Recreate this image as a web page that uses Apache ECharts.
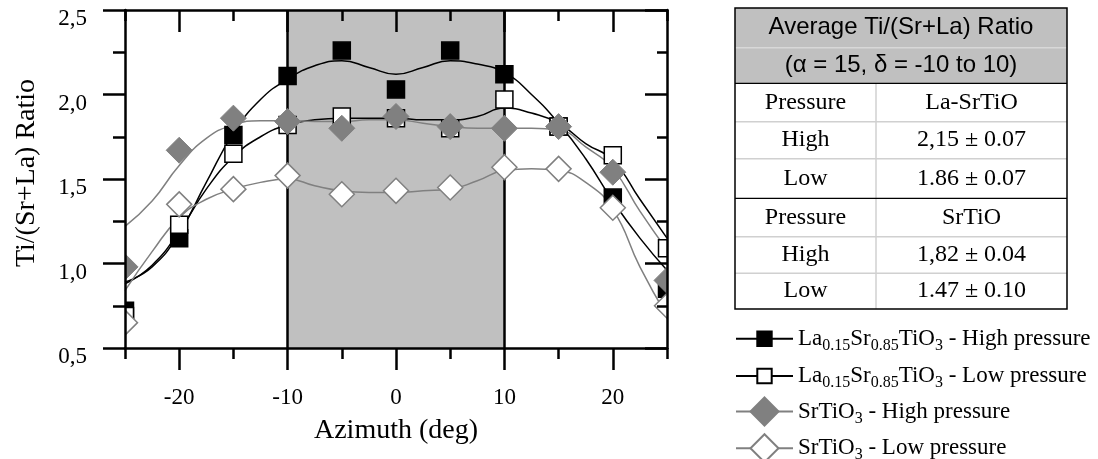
<!DOCTYPE html>
<html>
<head>
<meta charset="utf-8">
<script src="https://cdn.jsdelivr.net/npm/echarts@6/dist/echarts.min.js"></script>
<style>
  html, body { margin: 0; padding: 0; background: #fff; }
  #chart { width: 1098px; height: 459px; }
</style>
</head>
<body>
<div id="chart"></div>
<script>
// Measured Ti/(Sr+La) ratios per azimuth angle
const azimuth = [-25, -20, -15, -10, -5, 0, 5, 10, 15, 20, 25];
const laHigh = [0.72, 1.15, 1.76, 2.11, 2.26, 2.03, 2.26, 2.12, 1.81, 1.39, 0.85];
const laLow  = [0.69, 1.23, 1.65, 1.82, 1.87, 1.86, 1.80, 1.97, 1.81, 1.64, 1.09];
const srHigh = [0.98, 1.67, 1.86, 1.84, 1.80, 1.87, 1.81, 1.80, 1.81, 1.54, 0.90];
const srLow  = [0.65, 1.35, 1.44, 1.52, 1.41, 1.43, 1.45, 1.57, 1.56, 1.33, 0.75];

// Fitted trend curves, sampled every 2.5 deg
const fitAzimuth = [-25, -22.5, -20, -17.5, -15, -12.5, -10, -7.5, -5, -2.5, 0, 2.5, 5, 7.5, 10, 12.5, 15, 17.5, 20, 22.5, 25];
const laHighFit = [0.89, 0.98, 1.18, 1.48, 1.77, 1.97, 2.09, 2.17, 2.20, 2.16, 2.12, 2.16, 2.20, 2.18, 2.13, 2.00, 1.83, 1.62, 1.37, 1.15, 0.96];
const laLowFit  = [0.88, 0.99, 1.19, 1.44, 1.63, 1.75, 1.82, 1.85, 1.86, 1.86, 1.86, 1.85, 1.85, 1.87, 1.92, 1.89, 1.83, 1.71, 1.61, 1.38, 1.15];
const srHighFit = [1.22, 1.37, 1.58, 1.74, 1.82, 1.845, 1.845, 1.84, 1.84, 1.85, 1.85, 1.83, 1.81, 1.80, 1.80, 1.80, 1.79, 1.69, 1.56, 1.31, 1.08];
const srLowFit  = [0.84, 1.07, 1.27, 1.38, 1.44, 1.48, 1.50, 1.46, 1.43, 1.42, 1.42, 1.43, 1.44, 1.49, 1.55, 1.56, 1.55, 1.48, 1.32, 0.98, 0.69];

// Axis ticks and shaded azimuth window
const xMajorTicks = [-20, -10, 0, 10, 20];
const xMinorTicks = [-25, -15, -5, 5, 15, 25];
const shadedRange = [-10, 10];

const seriesNames = [
  'La0.15Sr0.85TiO3 - High pressure',
  'La0.15Sr0.85TiO3 - Low pressure',
  'SrTiO3 - High pressure',
  'SrTiO3 - Low pressure'
];

// Summary table
const tableTitle = ['Average Ti/(Sr+La) Ratio', '(\u03B1 = 15, \u03B4 = -10 to 10)'];
const tableHeadA = ['Pressure', 'La-SrTiO'];
const tableRowsA = [['High', '2,15 \u00B1 0.07'], ['Low', '1.86 \u00B1 0.07']];
const tableHeadB = ['Pressure', 'SrTiO'];
const tableRowsB = [['High', '1,82 \u00B1 0.04'], ['Low', '1.47 \u00B1 0.10']];

const SERIF = '"Liberation Serif", "Times New Roman", serif';
const SANS = '"Liberation Sans", Arial, sans-serif';
const GRAY = '#808080';
const AX = { color: '#000', width: 2.5 };

const pairs = (xs, ys) => xs.map((x, i) => [x, ys[i]]);

// Chemical formula with subscripted stoichiometry, as rich text
function richName(name) {
  const parts = name.split(' - ');
  const formula = parts[0].replace(/([A-Za-z]+)|([\d.]+)/g, (m, el, num) =>
    el ? '{n|' + el + '}' : '{s|' + num + '}');
  return formula + '{n| - ' + parts[1] + '}';
}

function fitSeries(name, ys, color, symbol, itemStyle) {
  return {
    type: 'line', name, data: pairs(fitAzimuth, ys),
    smooth: 0.5, showSymbol: false, symbol, z: 2,
    lineStyle: { color, width: 1.5 },
    itemStyle, silent: true, emphasis: { disabled: true }
  };
}

function markerSeries(name, ys, shape, size, fill, stroke, lw) {
  return {
    type: 'custom', name, data: pairs(azimuth, ys), clip: true, z: 6, silent: true,
    encode: { x: 0, y: 1 },
    renderItem(params, api) {
      const c = api.coord([api.value(0), api.value(1)]);
      const h = size / 2;
      const style = { fill, stroke, lineWidth: lw };
      if (shape === 'square') {
        return { type: 'rect', shape: { x: c[0] - h, y: c[1] - h, width: size, height: size }, style };
      }
      return {
        type: 'polygon',
        shape: { points: [[c[0], c[1] - h], [c[0] + h, c[1]], [c[0], c[1] + h], [c[0] - h, c[1]]] },
        style
      };
    }
  };
}

const laHighFitSeries = fitSeries(seriesNames[0], laHighFit, '#000', 'rect',
  { color: '#000', borderColor: '#000', borderWidth: 1 });
laHighFitSeries.markArea = {
  silent: true, z: 1,
  itemStyle: { color: '#c0c0c0' },
  data: [[{ xAxis: shadedRange[0] }, { xAxis: shadedRange[1] }]]
};
laHighFitSeries.markLine = {
  silent: true, z: 3, symbol: ['none', 'none'], animation: false,
  label: { show: false },
  lineStyle: { color: '#000', width: 2.5, type: 'solid' },
  data: shadedRange.map(v => ({ xAxis: v }))
};

// Table drawn as graphic rectangles, rules and texts
const tblL = 735, tblR = 1067, tblMid = 876;
const rowEdges = [8, 47.7, 83.3, 121.7, 158.7, 198.3, 236.7, 273.3, 309];
const graphics = [];
graphics.push({ type: 'rect', shape: { x: tblL, y: rowEdges[0], width: tblR - tblL, height: rowEdges[2] - rowEdges[0] },
  style: { fill: '#c0c0c0' }, silent: true });
[1, 3, 4, 6, 7].forEach(i => graphics.push({ type: 'line',
  shape: { x1: tblL, y1: rowEdges[i], x2: tblR, y2: rowEdges[i] },
  style: { stroke: i === 1 ? '#d8d8d8' : '#d0d0d0', lineWidth: 1.5 }, silent: true }));
graphics.push({ type: 'line', shape: { x1: tblMid, y1: rowEdges[2], x2: tblMid, y2: rowEdges[8] },
  style: { stroke: '#d0d0d0', lineWidth: 1.5 }, silent: true });
[2, 5].forEach(i => graphics.push({ type: 'line',
  shape: { x1: tblL, y1: rowEdges[i], x2: tblR, y2: rowEdges[i] },
  style: { stroke: '#000', lineWidth: 1.2 }, silent: true }));
graphics.push({ type: 'rect', shape: { x: tblL, y: rowEdges[0], width: tblR - tblL, height: rowEdges[8] - rowEdges[0] },
  style: { fill: 'none', stroke: '#000', lineWidth: 1.5 }, silent: true });

function cellText(text, x, row, family) {
  graphics.push({ type: 'text', silent: true, style: {
    text, x, y: (rowEdges[row] + rowEdges[row + 1]) / 2,
    textAlign: 'center', textVerticalAlign: 'middle',
    fontSize: 24, fontFamily: family, fill: '#000' } });
}
tableTitle.forEach((t, i) => cellText(t, (tblL + tblR) / 2, i, SANS));
const colX = [(tblL + tblMid) / 2, (tblMid + tblR) / 2];
[[tableHeadA, ...tableRowsA], [tableHeadB, ...tableRowsB]].forEach((block, b) => {
  block.forEach((cells, r) => cells.forEach((t, c) => cellText(t, colX[c], 2 + b * 3 + r, SERIF)));
});

const legendText = {
  fontSize: 23, fontFamily: SERIF, color: '#000',
  rich: {
    n: { fontSize: 23, fontFamily: SERIF, color: '#000', lineHeight: 30 },
    s: { fontSize: 16, fontFamily: SERIF, color: '#000', lineHeight: 8, verticalAlign: 'bottom' }
  }
};

// One legend block per entry so each row sits at its own height
const legendTops = [327.2, 364.5, 396.5, 433.2];
const legends = seriesNames.map((name, i) => ({
  data: [name], orient: 'vertical', left: 735, top: legendTops[i],
  itemWidth: 57, itemHeight: i < 2 ? 18 : 35, padding: 0, selectedMode: false,
  formatter: richName, textStyle: legendText
}));

const option = {
  animation: false,
  grid: { left: 125, right: 431, top: 10, bottom: 111 },
  xAxis: [
    {
      type: 'value', min: -25, max: 25, position: 'bottom', z: 10,
      axisLine: { onZero: false, lineStyle: AX },
      axisTick: { customValues: xMajorTicks, length: 22, lineStyle: AX },
      axisLabel: { customValues: xMajorTicks, margin: 38, fontSize: 23, fontFamily: SERIF, color: '#000' },
      splitLine: { show: false },
      name: 'Azimuth (deg)', nameLocation: 'middle', nameGap: 69,
      nameTextStyle: { fontSize: 28, fontFamily: SERIF, color: '#000' }
    },
    {
      type: 'value', min: -25, max: 25, position: 'bottom', z: 10,
      axisLine: { show: false, onZero: false },
      axisTick: { customValues: xMinorTicks, length: 11, lineStyle: AX },
      axisLabel: { show: false }, splitLine: { show: false }
    },
    {
      type: 'value', min: -25, max: 25, position: 'top', z: 10,
      axisLine: { onZero: false, lineStyle: AX },
      axisTick: { customValues: xMajorTicks, inside: true, length: 22, lineStyle: AX },
      axisLabel: { show: false }, splitLine: { show: false }
    },
    {
      type: 'value', min: -25, max: 25, position: 'top', z: 10,
      axisLine: { show: false, onZero: false },
      axisTick: { customValues: xMinorTicks, inside: true, length: 11, lineStyle: AX },
      axisLabel: { show: false }, splitLine: { show: false }
    }
  ],
  yAxis: [
    {
      type: 'value', min: 0.5, max: 2.5, interval: 0.5, position: 'left', z: 10,
      axisLine: { show: true, onZero: false, lineStyle: AX },
      axisTick: { length: 22, lineStyle: AX },
      minorTick: { show: true, splitNumber: 2, length: 12, lineStyle: AX },
      axisLabel: {
        formatter: v => v.toFixed(1).replace('.', ','), margin: 38,
        verticalAlign: 'top', lineHeight: 18,
        fontSize: 23, fontFamily: SERIF, color: '#000'
      },
      splitLine: { show: false }, minorSplitLine: { show: false },
      name: 'Ti/(Sr+La) Ratio', nameLocation: 'middle', nameGap: 84,
      nameTextStyle: { fontSize: 28, fontFamily: SERIF, color: '#000', padding: [0, 0, 0, 12] }
    },
    {
      type: 'value', min: 0.5, max: 2.5, interval: 0.5, position: 'right', z: 10,
      axisLine: { show: true, onZero: false, lineStyle: AX },
      axisTick: { inside: true, length: 22, lineStyle: AX },
      minorTick: { show: true, splitNumber: 2, length: 10, lineStyle: AX },
      axisLabel: { show: false }, splitLine: { show: false }, minorSplitLine: { show: false }
    }
  ],
  legend: legends,
  graphic: graphics,
  series: [
    laHighFitSeries,
    fitSeries(seriesNames[1], laLowFit, '#000', 'rect', { color: '#fff', borderColor: '#000', borderWidth: 1.5 }),
    fitSeries(seriesNames[2], srHighFit, GRAY, 'diamond', { color: GRAY, borderColor: GRAY, borderWidth: 1 }),
    fitSeries(seriesNames[3], srLowFit, GRAY, 'diamond', { color: '#fff', borderColor: GRAY, borderWidth: 1.5 }),
    markerSeries(seriesNames[0], laHigh, 'square', 17, '#000', '#000', 1.5),
    markerSeries(seriesNames[1], laLow, 'square', 17, '#fff', '#000', 1.5),
    markerSeries(seriesNames[2], srHigh, 'diamond', 26, GRAY, GRAY, 1),
    markerSeries(seriesNames[3], srLow, 'diamond', 25, '#fff', GRAY, 1.5)
  ]
};

echarts.init(document.getElementById('chart'), null, { renderer: 'canvas' }).setOption(option);
</script>
</body>
</html>
